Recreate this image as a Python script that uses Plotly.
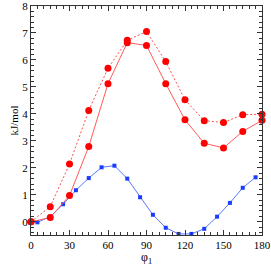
import plotly.graph_objects as go

phi_red = [0, 15, 30, 45, 60, 75, 90, 105, 120, 135, 150, 165, 180]
red_solid = [0.0, 0.16, 0.97, 2.79, 5.12, 6.64, 6.54, 5.12, 3.78, 2.91, 2.74, 3.35, 3.76]
red_dashed = [0.0, 0.56, 2.14, 4.13, 5.69, 6.73, 7.05, 5.94, 4.52, 3.75, 3.68, 3.97, 3.99]

phi_blue = [0, 5, 15, 25, 35, 45, 55, 65, 75, 85, 95, 105, 115, 125, 135, 145, 155, 165, 175]
blue = [0.0, -0.02, 0.19, 0.65, 1.17, 1.62, 2.02, 2.08, 1.60, 0.91, 0.26, -0.22, -0.45, -0.45, -0.26, 0.19, 0.70, 1.26, 1.65]

x_ticks = [0, 30, 60, 90, 120, 150, 180]
y_ticks = [0, 1, 2, 3, 4, 5, 6, 7, 8]

fig = go.Figure()
fig.add_trace(go.Scatter(x=phi_blue, y=blue, mode="lines+markers",
                         line=dict(color="#5a78ff", width=1),
                         marker=dict(symbol="square", size=4, color="#1a3cff"),
                         showlegend=False, cliponaxis=False))
fig.add_trace(go.Scatter(x=phi_red, y=red_dashed, mode="lines+markers",
                         line=dict(color="#ff4d4d", width=1, dash="2px,2px"),
                         marker=dict(symbol="circle", size=7, color="#ff0000"),
                         showlegend=False, cliponaxis=False))
fig.add_trace(go.Scatter(x=phi_red, y=red_solid, mode="lines+markers",
                         line=dict(color="#ff5a5a", width=1),
                         marker=dict(symbol="circle", size=7, color="#ff0000"),
                         showlegend=False, cliponaxis=False))

axis_common = dict(showgrid=False, zeroline=False, showline=True, linecolor="#333333",
                   linewidth=1, mirror="allticks", ticks="inside", ticklen=5,
                   tickcolor="#333333", tickwidth=1, automargin=False,
                   ticklabeloverflow="allow",
                   tickfont=dict(family="Liberation Serif", size=11, color="black"))

fig.update_xaxes(range=[0, 180], tickvals=x_ticks, ticktext=[str(v) for v in x_ticks],
                 minor=dict(dtick=5, ticks="inside", ticklen=3, tickcolor="#333333"),
                 title=dict(text="φ<sub>1</sub>", font=dict(family="Liberation Serif", size=12, color="black"), standoff=3),
                 **axis_common)
fig.update_yaxes(range=[-0.49, 8.0], tickvals=y_ticks, ticktext=[str(v) for v in y_ticks],
                 minor=dict(dtick=0.2, ticks="inside", ticklen=3, tickcolor="#333333"),
                 title=dict(text="kJ/mol", font=dict(family="Liberation Serif", size=11, color="black"), standoff=1),
                 **axis_common)

fig.update_layout(width=271, height=266, margin=dict(l=31, r=9, t=6, b=31),
                  plot_bgcolor="white", paper_bgcolor="white")
fig.write_html("out.html", config={"displayModeBar": False},
               post_script="document.body.style.margin='0';document.body.style.padding='0';")
